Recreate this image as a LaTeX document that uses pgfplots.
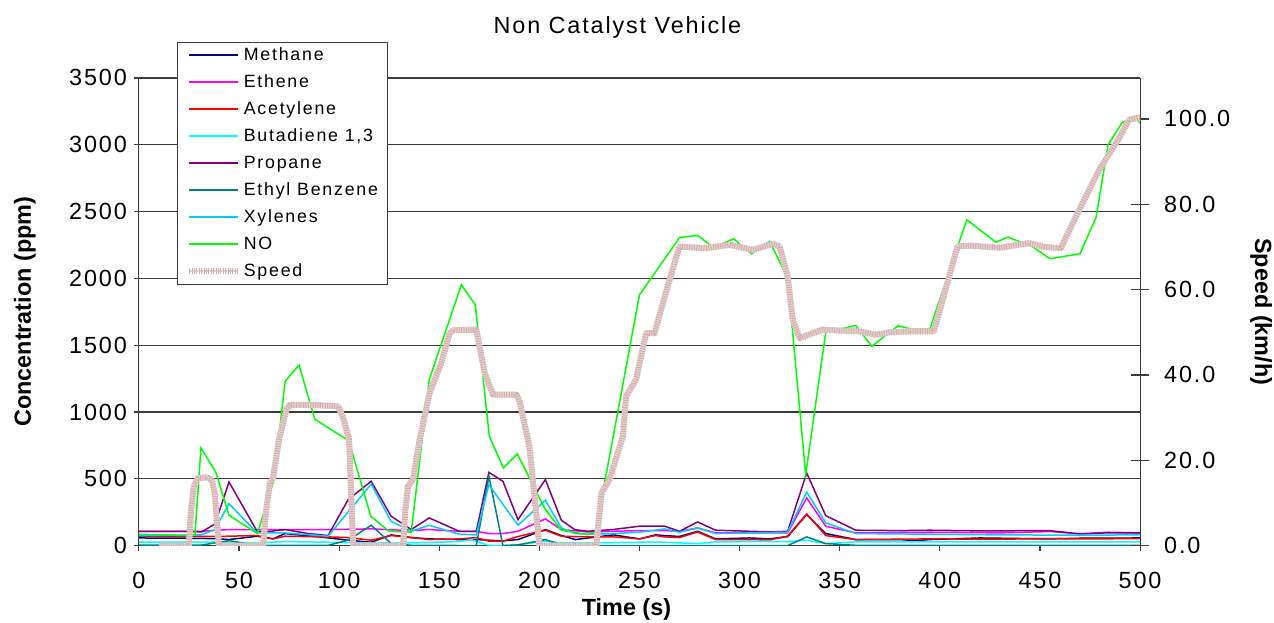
\documentclass[border=0pt]{standalone}
\usepackage{fontspec}
\setmainfont{Liberation Sans}[LetterSpace=8]
\newfontfamily\legfont{Liberation Sans}[LetterSpace=10]
\newfontfamily\labfont{Liberation Sans}
\usepackage{pgfplots}
\pgfplotsset{compat=1.18}
\definecolor{cMethane}{RGB}{0,0,128}
\definecolor{cEthene}{RGB}{255,0,255}
\definecolor{cAcet}{RGB}{255,0,0}
\definecolor{cButa}{RGB}{0,255,255}
\definecolor{cProp}{RGB}{128,0,128}
\definecolor{cEthyl}{RGB}{0,128,128}
\definecolor{cXyl}{RGB}{0,204,255}
\definecolor{cNO}{RGB}{0,255,0}
\definecolor{cSpeed}{RGB}{230,208,206}
\definecolor{cSpeedD}{RGB}{210,174,172}
\definecolor{gridc}{RGB}{60,60,60}
\tikzset{speedline/.style={line width=3pt, draw=cSpeed, line join=round,
  postaction={draw=cSpeedD, line width=3pt, dash pattern=on 0.5pt off 0.7pt}}}
\begin{document}
\begin{tikzpicture}
\begin{axis}[
  at={(0,0)}, anchor=south west,
  scale only axis, width=501pt, height=234pt,
  xmin=0, xmax=500, ymin=0, ymax=3500,
  xtick={0,50,...,500}, ytick={0,500,...,3500},
  axis x line*=bottom, axis y line*=left,
  ymajorgrids, grid style={gridc, line width=0.6pt},
  axis line style={gridc, line width=0.6pt, -},
  tick style={gridc, line width=0.6pt},
  tick align=outside, major tick length=2.5pt,
  /pgf/number format/assume math mode=true,
  /pgf/number format/1000 sep={},
  ticklabel style={font=\fontsize{11.7}{14}\selectfont},
  xticklabel shift=7.5pt,
  title={Non Catalyst Vehicle},
  title style={at={(0.478,1.070)}, anchor=base, font=\fontsize{11.7}{14}\selectfont},
  xlabel={Time (s)},
  xlabel style={at={(0.487,-0.136)}, anchor=center, font=\labfont\bfseries\fontsize{11.7}{14}\selectfont},
  ylabel={Concentration (ppm)},
  ylabel style={at={(-0.1138,0.5)}, anchor=center, font=\labfont\bfseries\fontsize{11.7}{14}\selectfont},
  legend style={at={(0.0379,1.0769)}, anchor=north west,
    font=\legfont\fontsize{8.9}{10}\selectfont, draw=gridc, fill=white,
    inner xsep=4.5pt, inner ysep=2.3pt, row sep=5.1pt, column sep=1.3pt,
    nodes={inner sep=0pt, text height=6.6pt, text depth=1.8pt}},
  legend cell align=left,
  legend image code/.code={\draw[#1, line width=1pt] (0pt,0pt) -- (24.5pt,0pt);},
]
\addplot[draw=cMethane, line width=0.75pt] coordinates {
(0,57) (24,55) (38,52) (45,45) (59,70) (67,50) (73,90) (94.5,58) (104.5,40) (116,25) (126,80) (136,60) (145,50) (160,45) (168.5,45) (174.8,40) (181.8,35) (189.3,45) (203,120) (211,75) (218,45) (237,80) (250,50) (258,80) (262.5,75) (270,68) (279,107) (288,50) (305,57) (315,50) (324,68) (333.5,232) (343,90) (358,45) (380,45) (388,37) (395,45) (420,57) (455,50) (470,55) (500,57)};
\addlegendentry{Methane}
\addplot[draw=cEthene, line width=0.75pt] coordinates {
(0,107) (31,107) (45,120) (94.5,120) (116,125) (136,112) (145,120) (160,107) (168.5,107) (174.8,90) (181.8,90) (189.3,107) (203,200) (211,120) (224,102) (237,107) (250,112) (262.5,112) (270,107) (279,132) (288,95) (324,95) (333.5,357) (343,145) (358,95) (395,100) (430,95) (455,105) (470,88) (484,100) (500,95)};
\addlegendentry{Ethene}
\addplot[draw=cAcet, line width=0.75pt] coordinates {
(0,70) (31,70) (38,68) (59,75) (67,50) (73,70) (94.5,65) (104.5,60) (116,40) (126,75) (136,60) (145,45) (160,50) (168.5,60) (174.8,33) (181.8,33) (189.3,68) (203,115) (211,70) (224,65) (237,65) (250,50) (258,75) (262.5,65) (270,60) (279,102) (288,45) (305,45) (315,42) (324,70) (333.5,237) (343,75) (358,45) (395,50) (430,48) (455,52) (470,50) (500,52)};
\addlegendentry{Acetylene}
\addplot[draw=cButa, line width=0.75pt] coordinates {
(0,25) (45,25) (59,20) (73,30) (116,20) (136,20) (160,30) (166,45) (175,0) (181.8,0) (189,5) (203,33) (211,20) (224,20) (250,25) (262.5,25) (279,15) (288,28) (324,30) (333.5,40) (343,15) (358,28) (500,28)};
\addlegendentry{Butadiene 1,3}
\addplot[draw=cProp, line width=0.75pt] coordinates {
(0,107) (24,107) (31.3,102) (38,162) (45,476) (59,107) (66,107) (73,120) (84.5,90) (94.5,75) (104.5,344) (116,481) (126,219) (131,170) (136,120) (145,207) (160,107) (168.5,107) (174.8,548) (181.8,481) (189.3,194) (203,494) (211,189) (217.6,120) (224,107) (236.7,120) (250,145) (262.5,145) (270,107) (279,177) (288,115) (316,102) (324,107) (333.5,543) (343,224) (358,115) (380,112) (395,115) (420,110) (455,112) (470,87) (483,95) (500,95)};
\addlegendentry{Propane}
\addplot[draw=cEthyl, line width=0.75pt] coordinates {
(0,3) (31,3) (45,37) (59,2) (94.5,2) (104.5,40) (116,152) (126,15) (136,2) (168.5,0) (174.8,519) (181.8,0) (189.3,5) (203,45) (211,5) (224,0) (324,0) (333.5,65) (343,15) (358,2) (500,2)};
\addlegendentry{Ethyl Benzene}
\addplot[draw=cXyl, line width=0.75pt] coordinates {
(0,75) (31,80) (38,120) (45,314) (59,95) (73,95) (94.5,70) (116,460) (126,180) (131,145) (136,107) (145,152) (160,85) (168.5,80) (174.8,456) (189.3,152) (203,339) (211,132) (218,90) (224,85) (237,90) (250,100) (262.5,125) (270,100) (279,132) (288,90) (324,100) (333.5,401) (343,170) (358,90) (395,85) (430,80) (470,78) (500,80)};
\addlegendentry{Xylenes}
\addplot[draw=cNO, line width=0.75pt] coordinates {
(0,85) (24,75) (28,80) (31,731) (38.4,548) (45,227) (59.2,90) (67.5,494) (73,1229) (80,1351) (87.8,947) (98.6,843) (104.8,785) (115.8,219) (125,107) (136,100) (145,1241) (161,1952) (168,1802) (175,818) (182,581) (189,686) (203,269) (211,115) (224,82) (228,100) (250,1877) (270,2306) (279,2321) (287,2231) (297,2296) (306,2184) (315,2276) (324,2002) (333,531) (343,1595) (358,1648) (366,1491) (379,1645) (386,1620) (395,1620) (409,2246) (413.5,2438) (428,2271) (434,2309) (446,2239) (455,2147) (470,2184) (478,2456) (484,2999) (491,3166) (497,3211) (500,3162)};
\addlegendentry{NO}
\addlegendimage{speedline}
\addlegendentry{Speed}
\end{axis}
\begin{axis}[
  at={(0,0)}, anchor=south west,
  scale only axis, width=501pt, height=234pt,
  xmin=0, xmax=500, ymin=0, ymax=109.6,
  ytick={0,20,...,100},
  axis x line=none, axis y line*=right,
  axis line style={gridc, line width=0.6pt, -},
  tick style={gridc, line width=0.6pt},
  tick align=center, major tick length=9pt,
  /pgf/number format/assume math mode=true,
  /pgf/number format/.cd, fixed, fixed zerofill, precision=1, /pgfplots/.cd,
  ticklabel style={font=\fontsize{11.7}{14}\selectfont},
  yticklabel shift=4pt,
  ylabel={Speed (km/h)},
  ylabel style={at={(1.1208,0.5)}, anchor=center, rotate=180, font=\labfont\bfseries\fontsize{11.7}{14}\selectfont},
]
\addplot[speedline] coordinates {
(10,0) (25,0) (26,8) (27.5,14) (29.5,15.8) (34,16) (36.5,15.3) (38,12) (39,5) (40,0) (62,0) (63.5,8) (65.4,14.7) (67,15.8) (70,25) (73.7,31.9) (75.3,33) (87,33) (99.5,32.6) (102,30) (105,24.8) (106,12) (107,0) (132,0) (133,8) (134.4,13.9) (136.9,15.5) (140.2,24.8) (145.2,35.8) (151,42.8) (155.2,49.8) (157,50.5) (168.5,50.6) (170,47) (172.7,40.4) (176.8,35.4) (188.5,35.4) (190,34) (195,23.3) (198.4,7.7) (200,0) (228.4,0) (231,12.3) (235,15.5) (241.7,25.6) (243.3,35) (248.3,38.9) (253.3,49.8) (257.5,49.8) (265,62.3) (270,70.1) (283,69.7) (295,70.5) (306.5,69.3) (316.5,70.7) (320,70.1) (324,63) (326.5,52.9) (330,48.6) (336.5,49.8) (341.5,50.6) (350,50.4) (360,50.2) (368,49.4) (375,50) (385,50.2) (397,50.2) (408.8,70.1) (415,70.3) (430,69.8) (444.6,70.9) (452,70) (460.4,69.7) (469.6,78.7) (479.5,88) (489.5,95.5) (494.5,99.8) (500,100.4)};
\end{axis}
\pgfresetboundingbox
\path[use as bounding box] (-69.5pt,-38.5pt) rectangle (568pt,273pt);
\end{tikzpicture}
\end{document}
